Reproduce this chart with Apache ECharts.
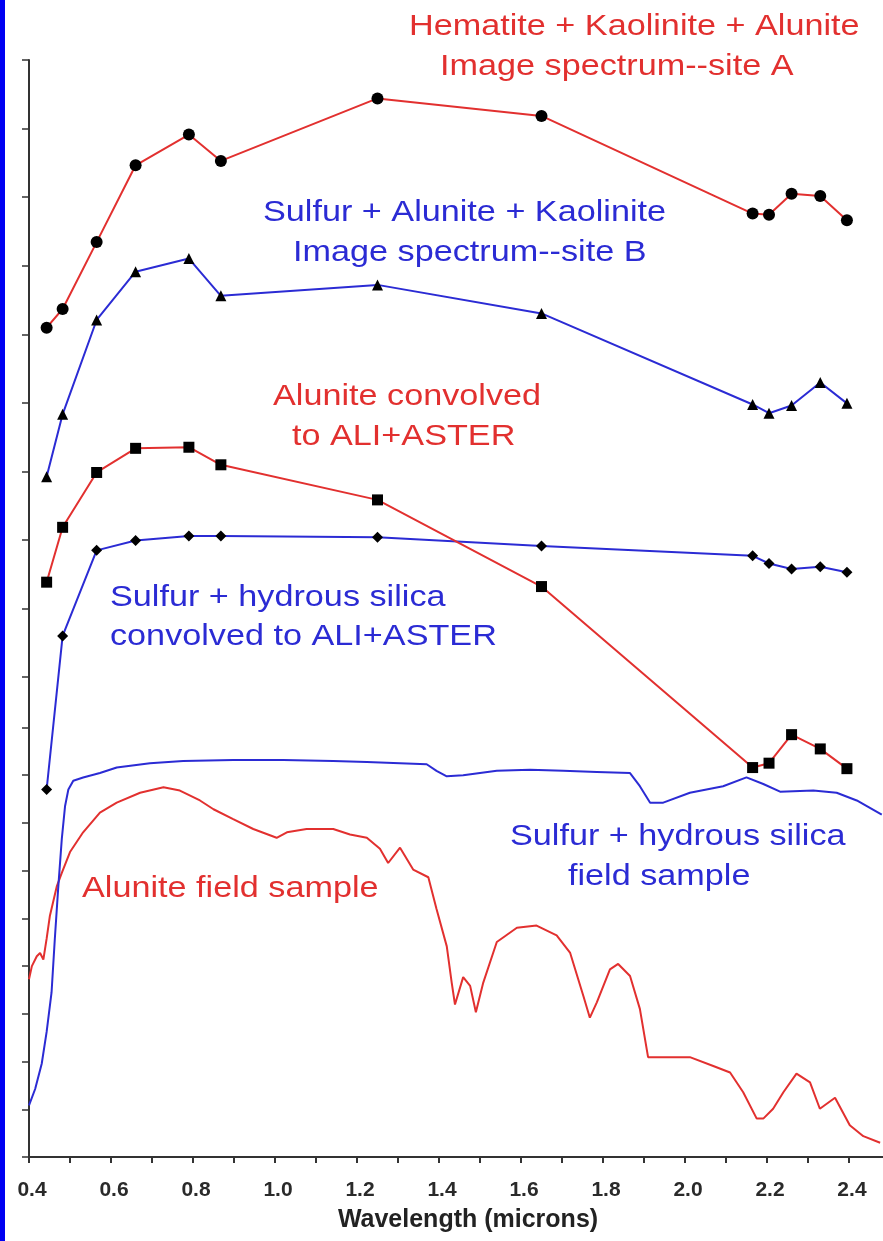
<!DOCTYPE html>
<html>
<head>
<meta charset="utf-8">
<title>Image and field spectra</title>
<script src="https://cdn.jsdelivr.net/npm/echarts@6/dist/echarts.min.js"></script>
<style>
  html, body { margin: 0; padding: 0; background: #fff; }
  #chart { width: 883px; height: 1241px; }
</style>
</head>
<body>
<div id="chart"></div>
<script>
// ALI + ASTER band centres (microns)
const bands = [0.443, 0.482, 0.565, 0.660, 0.790, 0.868, 1.250, 1.650, 2.165, 2.205, 2.260, 2.330, 2.395]

// offset reflectance, arbitrary units
const siteA = [75.6, 77.3, 83.4, 90.4, 93.2, 90.8, 96.5, 94.9, 86.0, 85.9, 87.8, 87.6, 85.4]
const siteB = [62.0, 67.7, 76.3, 80.7, 81.9, 78.5, 79.5, 76.9, 68.6, 67.8, 68.5, 70.6, 68.7]
const aluniteConv = [52.4, 57.4, 62.4, 64.6, 64.7, 63.1, 59.9, 52.0, 35.5, 35.9, 38.5, 37.2, 35.4]
const sulfurConv = [33.5, 47.5, 55.3, 56.2, 56.6, 56.6, 56.5, 55.7, 54.8, 54.1, 53.6, 53.8, 53.3]

const sulfurFieldWl = [0.400, 0.415, 0.431, 0.443, 0.455, 0.463, 0.471, 0.480, 0.488, 0.496, 0.508, 0.532, 0.573, 0.614,
  0.695, 0.776, 0.898, 1.020, 1.142, 1.224, 1.305, 1.370, 1.394, 1.419, 1.459, 1.541, 1.622, 1.703, 1.785, 1.866,
  1.890, 1.915, 1.947, 2.012, 2.093, 2.150, 2.191, 2.232, 2.313, 2.370, 2.419, 2.480]
const sulfurField = [4.7, 6.2, 8.5, 11.4, 15.0, 19.9, 24.4, 29.0, 32.0, 33.5, 34.3, 34.6, 35.0, 35.5,
  35.9, 36.1, 36.2, 36.2, 36.1, 36.0, 35.9, 35.8, 35.2, 34.7, 34.8, 35.2, 35.3, 35.2, 35.1, 35.0,
  33.8, 32.3, 32.3, 33.2, 33.8, 34.6, 34.0, 33.3, 33.4, 33.2, 32.5, 31.2]

const aluniteFieldWl = [0.400, 0.407, 0.419, 0.427, 0.435, 0.443, 0.451, 0.468, 0.480, 0.500, 0.532, 0.573, 0.614, 0.671,
  0.728, 0.768, 0.817, 0.850, 0.898, 0.947, 1.004, 1.029, 1.077, 1.142, 1.183, 1.224, 1.256, 1.276, 1.305, 1.337,
  1.374, 1.394, 1.419, 1.431, 1.439, 1.459, 1.476, 1.490, 1.508, 1.541, 1.590, 1.638, 1.687, 1.720, 1.752, 1.768,
  1.785, 1.817, 1.837, 1.866, 1.890, 1.910, 1.955, 2.012, 2.069, 2.110, 2.142, 2.175, 2.191, 2.215, 2.240, 2.272,
  2.305, 2.329, 2.366, 2.402, 2.435, 2.476]
const aluniteField = [16.2, 17.4, 18.3, 18.6, 18.0, 19.9, 22.0, 24.7, 25.9, 27.8, 29.6, 31.4, 32.3, 33.2,
  33.7, 33.4, 32.5, 31.7, 30.8, 29.9, 29.1, 29.6, 29.9, 29.9, 29.4, 29.1, 28.1, 26.8, 28.2, 26.2,
  25.5, 22.6, 19.2, 15.9, 13.9, 16.4, 15.6, 13.2, 15.9, 19.6, 20.9, 21.1, 20.2, 18.6, 14.7, 12.7,
  14.1, 17.1, 17.6, 16.5, 13.5, 9.1, 9.1, 9.1, 8.3, 7.7, 5.9, 3.5, 3.5, 4.4, 5.9, 7.6,
  6.8, 4.4, 5.4, 2.9, 1.9, 1.3]

const xTicks = [0.4, 0.5, 0.6, 0.7, 0.8, 0.9, 1.0, 1.1, 1.2, 1.3, 1.4, 1.5, 1.6, 1.7, 1.8, 1.9, 2.0, 2.1, 2.2, 2.3, 2.4]
const xLabels = [0.4, 0.6, 0.8, 1.0, 1.2, 1.4, 1.6, 1.8, 2.0, 2.2, 2.4]
const yTicks = [0, 4.35, 8.7, 13.05, 17.4, 21.75, 26.1, 30.45, 34.8, 39.15,
  43.75, 50, 56.25, 62.5, 68.75, 75, 81.25, 87.5, 93.75, 100]

const RED = '#e2302f'
const BLUE = '#2b2bd4'
const FONT = '"Liberation Sans", Arial, Helvetica, sans-serif'

function pairs(xs, ys) {
  return xs.map((x, i) => [x, ys[i]])
}

function markerSeries(name, values, color, symbol, size) {
  return {
    name, type: 'line', data: pairs(bands, values),
    symbol, symbolSize: size, showSymbol: true,
    lineStyle: { color, width: 2 }, itemStyle: { color: '#000' },
    z: 3
  }
}

function fieldSeries(name, wl, values, color) {
  return {
    name, type: 'line', data: pairs(wl, values),
    showSymbol: false, smooth: false,
    lineStyle: { color, width: 2 }, z: 2
  }
}

function note(text, x, y, color) {
  return {
    type: 'text', x, y, scaleX: 1.14,
    style: { text, fill: color, font: '30px ' + FONT, verticalAlign: 'top', align: 'left' },
    z: 10
  }
}

const chart = echarts.init(document.getElementById('chart'))

chart.setOption({
  animation: false,
  backgroundColor: '#fff',
  grid: { left: 29, right: 0, top: 60, bottom: 84 },
  xAxis: {
    type: 'value', min: 0.4, max: 2.483,
    name: 'Wavelength (microns)', nameLocation: 'middle', nameGap: 51,
    nameTextStyle: { fontSize: 25, fontWeight: 'bold', color: '#222', fontFamily: FONT, padding: [0, 0, 0, 24] },
    axisLine: { lineStyle: { color: '#333', width: 2 } },
    axisTick: { customValues: xTicks, length: 6, lineStyle: { color: '#333', width: 2 } },
    axisLabel: {
      customValues: xLabels, formatter: v => v.toFixed(1),
      fontSize: 21, fontWeight: 'bold', color: '#2a2a2a', fontFamily: FONT, margin: 23,
      padding: [0, 0, 0, 6]
    },
    splitLine: { show: false }
  },
  yAxis: {
    type: 'value', min: 0, max: 100,
    axisLine: { show: true, lineStyle: { color: '#333', width: 2 } },
    axisTick: { show: true, customValues: yTicks, length: 7, lineStyle: { color: '#333', width: 1.5 } },
    axisLabel: { show: false },
    splitLine: { show: false }
  },
  series: [
    fieldSeries('Alunite field sample', aluniteFieldWl, aluniteField, RED),
    fieldSeries('Sulfur + hydrous silica field sample', sulfurFieldWl, sulfurField, BLUE),
    markerSeries('Sulfur + hydrous silica convolved', sulfurConv, BLUE, 'diamond', 11),
    markerSeries('Alunite convolved', aluniteConv, RED, 'rect', 11),
    markerSeries('Image spectrum site B', siteB, BLUE, 'triangle', 11),
    markerSeries('Image spectrum site A', siteA, RED, 'circle', 12)
  ],
  graphic: [
    { type: 'rect', x: 0, y: 0, shape: { width: 5, height: 1241 }, style: { fill: '#0000f2' }, z: 20 },
    note('Hematite + Kaolinite + Alunite', 409, 12, RED),
    note('Image spectrum--site A', 440, 52, RED),
    note('Sulfur + Alunite + Kaolinite', 263, 198, BLUE),
    note('Image spectrum--site B', 293, 238, BLUE),
    note('Alunite convolved', 273, 382, RED),
    note('to ALI+ASTER', 292, 422, RED),
    note('Sulfur + hydrous silica', 110, 583, BLUE),
    note('convolved to ALI+ASTER', 110, 622, BLUE),
    note('Sulfur + hydrous silica', 510, 822, BLUE),
    note('field sample', 568, 862, BLUE),
    note('Alunite field sample', 82, 874, RED)
  ]
})
</script>
</body>
</html>
